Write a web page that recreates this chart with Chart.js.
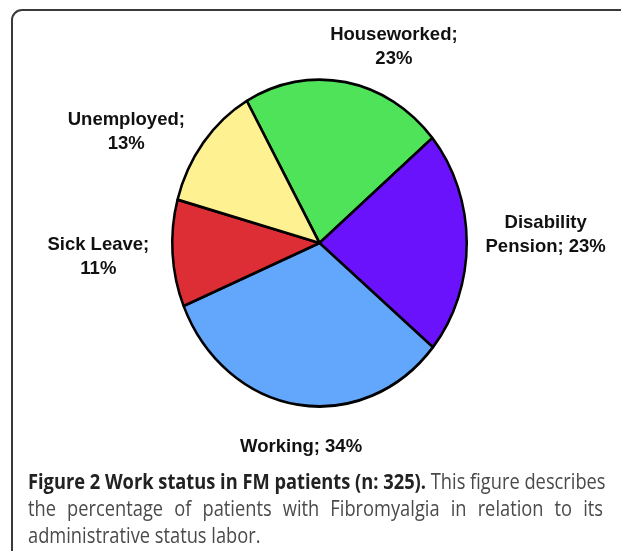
<!DOCTYPE html>
<html>
<head>
<meta charset="utf-8">
<script src="https://cdn.jsdelivr.net/npm/chart.js@4.4.0/dist/chart.umd.min.js"></script>
<style>
  html, body { margin: 0; padding: 0; background: #fff; }
  #wrap { position: relative; width: 621px; height: 551px; overflow: hidden; }
  #frame {
    position: absolute; left: 11px; top: 9px; width: 640px; height: 600px;
    border: 2px solid #3a3a3a; border-radius: 11px; box-sizing: border-box;
  }
  #chart { position: absolute; left: 0; top: 0; }
  #caption {
    position: absolute; left: 28px; top: 468px; width: 661px;
    font-family: "Open Sans", sans-serif; font-size: 21px; line-height: 27px;
    color: #4a4a4a; transform: scaleX(0.87); transform-origin: 0 0;
  }
  #caption span.l { display: block; text-align: justify; text-align-last: justify; white-space: nowrap; }
  #caption span.last { display: block; text-align: left; }
  #caption b { color: #222; font-weight: 700; }
</style>
</head>
<body>
<div id="wrap">
  <canvas id="chart" width="621" height="551"></canvas>
  <div id="frame"></div>
  <div id="caption">
    <span class="l"><b>Figure 2 Work status in FM patients (n: 325).</b> This figure describes</span>
    <span class="l">the percentage of patients with Fibromyalgia in relation to its</span>
    <span class="last">administrative status labor.</span>
  </div>
</div>
<script>
// data (Excel rounded percents)
const categories = ['Houseworked', 'Disability Pension', 'Working', 'Sick Leave', 'Unemployed'];
const percents = [23, 23, 34, 11, 13];
const colors = ['#4fe35a', '#6a12fb', '#62a7fc', '#dd2d35', '#fef191'];
const labelLines = [
    ['Houseworked;', '23%'],
    ['Disability', 'Pension; 23%'],
    ['Working; 34%'],
    ['Sick Leave;', '11%'],
    ['Unemployed;', '13%']
];

// where each label sits, in outer-radius units from the pie centre
const labelAnchor = [[0.505, -1.329], [1.536, -0.058], [-0.125, 1.383], [-1.502, 0.095], [-1.312, -0.753]];
const stretchY = 1.11; // the original pie is a slightly tall ellipse

const ovalPie = {
    id: 'ovalPie',
    beforeDatasetsDraw(chart) {
        const arc = chart.getDatasetMeta(0).data[0];
        const ctx = chart.ctx;
        ctx.save();
        ctx.translate(arc.x, arc.y);
        ctx.scale(1, stretchY);
        ctx.translate(-arc.x, -arc.y);
    },
    afterDatasetsDraw(chart) {
        chart.ctx.restore();
    }
};

const pieLabels = {
    id: 'pieLabels',
    afterDraw(chart) {
        const ctx = chart.ctx;
        const meta = chart.getDatasetMeta(0);
        const r = meta.data[0].outerRadius;
        const cx = meta.data[0].x, cy = meta.data[0].y;
        ctx.save();
        ctx.font = 'bold 18.5px "Liberation Sans", Arial, sans-serif';
        ctx.fillStyle = '#111';
        ctx.textAlign = 'center';
        ctx.textBaseline = 'middle';
        labelLines.forEach((lines, i) => {
            const x = cx + labelAnchor[i][0] * r;
            const y = cy + labelAnchor[i][1] * r;
            const lh = 24;
            const top = y - (lines.length - 1) * lh / 2;
            lines.forEach((t, j) => ctx.fillText(t, x, top + j * lh));
        });
        ctx.restore();
    }
};

new Chart(document.getElementById('chart'), {
    type: 'pie',
    data: {
        labels: categories,
        datasets: [{
            data: percents,
            backgroundColor: colors,
            borderColor: '#000',
            borderWidth: 2.5,
            clip: false
        }]
    },
    options: {
        responsive: false,
        animation: false,
        rotation: -29.6,
        layout: { padding: { left: 171, right: 153, top: 78, bottom: 143 } },
        plugins: {
            legend: { display: false },
            tooltip: { enabled: false },
            title: { display: false }
        }
    },
    plugins: [ovalPie, pieLabels]
});
</script>
</body>
</html>
